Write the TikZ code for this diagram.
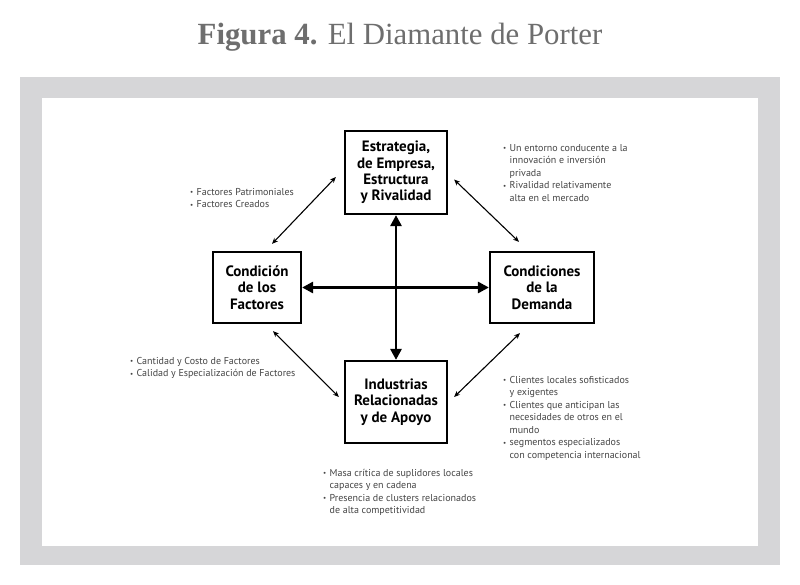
\documentclass[tikz,border=0pt]{standalone}
\usepackage{fontspec}
\setmainfont{PT Sans}
\newfontfamily\titlefont{Liberation Serif}
\usetikzlibrary{arrows.meta}
\definecolor{framegray}{HTML}{D6D6D8}
\definecolor{titlegray}{HTML}{6E6E6E}
\definecolor{notegray}{HTML}{454545}
\newcommand{\bul}{\makebox[6.5pt][l]{\raisebox{.5pt}{\scriptsize\textbullet}}}
\newcommand{\sig}{\hspace*{6.5pt}}
\begin{document}
\begin{tikzpicture}[x=1pt,y=-1pt,
    factor/.style={draw, line width=2.2pt, align=center, inner sep=0pt,
        font=\fontsize{15}{16.4}\selectfont\bfseries},
    note/.style={anchor=north west, align=left, inner sep=0pt, text=notegray,
        font=\fontsize{10}{12.5}\selectfont},
    force/.style={{Triangle[length=11pt,width=11pt]}-{Triangle[length=11pt,width=11pt]}, line width=2.8pt},
    link/.style={{Stealth[length=6pt,width=5pt]}-{Stealth[length=6pt,width=5pt]}, line width=1.1pt}]
    \useasboundingbox (0,0) rectangle (800,585);
    \fill[framegray] (20,77) rectangle (780,565);
    \fill[white] (42,98) rectangle (758,546);
    \node[anchor=base, text=titlegray, font=\titlefont\fontsize{30.8}{34}\selectfont] (titulo) at (400,45)
        {\textbf{Figura 4.} El Diamante de Porter};
    \node[factor, minimum width=102pt, minimum height=83pt] (estrategia) at (396,172.5)
        {Estrategia,\\de Empresa,\\Estructura\\y Rivalidad};
    \node[factor, minimum width=88pt, minimum height=71pt] (factores) at (257,287.5)
        {Condición\\de los\\Factores};
    \node[factor, minimum width=104pt, minimum height=71pt] (demanda) at (542,287.5)
        {Condiciones\\de la\\Demanda};
    \node[factor, minimum width=102pt, minimum height=82pt] (industrias) at (396,402)
        {Industrias\\Relacionadas\\y de Apoyo};
    \draw[force] (factores) -- (demanda);
    \draw[force] (estrategia) -- (industrias);
    \draw[link] ([shift={(15,-7)}]factores.north) -- ([shift={(-8,4.5)}]estrategia.west);
    \draw[link] ([shift={(6,7)}]estrategia.east) -- ([shift={(-23,-9)}]demanda.north);
    \draw[link] ([shift={(16,7)}]factores.south) -- ([shift={(-5,-5)}]industrias.west);
    \draw[link] ([shift={(6,-5)}]industrias.east) -- ([shift={(-22,9)}]demanda.south);
    \node[note] (notafac) at (190,188)
        {\bul Factores Patrimoniales\\\bul Factores Creados};
    \node[note] (notaest) at (503,144)
        {\bul Un entorno conducente a la\\\sig innovación e inversión\\\sig privada\\
         \bul Rivalidad relativamente\\\sig alta en el mercado};
    \node[note] (notacos) at (130,357)
        {\bul Cantidad y Costo de Factores\\\bul Calidad y Especialización de Factores};
    \node[note] (notadem) at (503,376)
        {\bul Clientes locales sofisticados\\\sig y exigentes\\\bul Clientes que anticipan las\\
         \sig necesidades de otros en el\\\sig mundo\\\bul segmentos especializados\\
         \sig con competencia internacional};
    \node[note] (notaind) at (323,469)
        {\bul Masa crítica de suplidores locales\\\sig capaces y en cadena\\
         \bul Presencia de clusters relacionados\\\sig de alta competitividad};
\end{tikzpicture}
\end{document}
